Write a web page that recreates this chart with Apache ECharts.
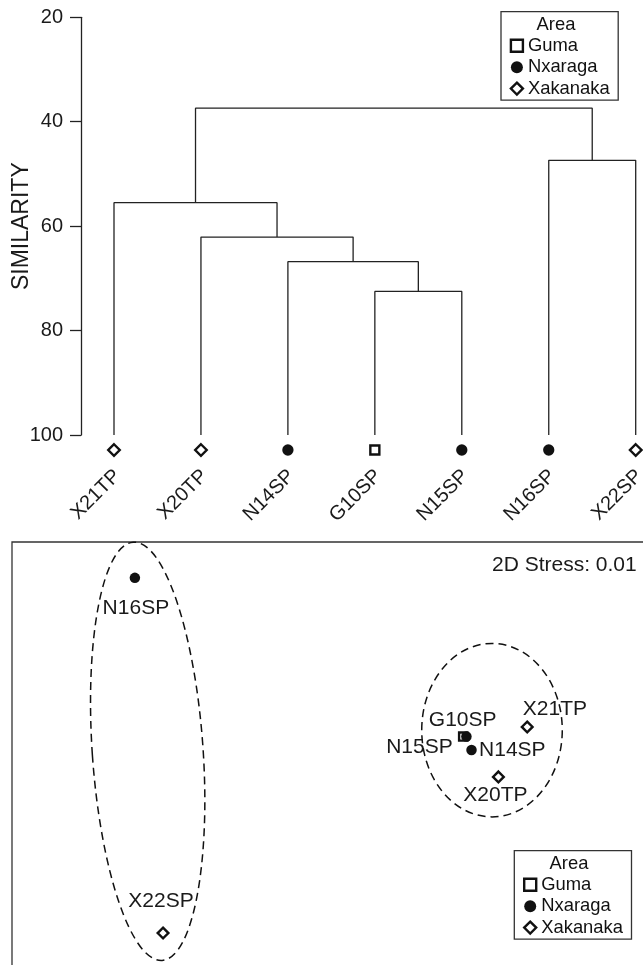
<!DOCTYPE html>
<html>
<head>
<meta charset="utf-8">
<script src="https://cdn.jsdelivr.net/npm/echarts@6/dist/echarts.min.js"></script>
<style>html,body{margin:0;padding:0;background:#fff}#container{width:643px;height:965px}</style>
</head>
<body>
<div id="container"></div>
<script>
var dom = document.getElementById("container");
var myChart = echarts.init(dom);

// dendrogram: leaf order and area of each leaf
var leaves = ['X21TP', 'X20TP', 'N14SP', 'G10SP', 'N15SP', 'N16SP', 'X22SP'];
var leafArea = ['Xakanaka', 'Xakanaka', 'Nxaraga', 'Guma', 'Nxaraga', 'Nxaraga', 'Xakanaka'];
// merges: [node a, node b, similarity]; nodes 0-6 are leaves, 7.. are the merges in order
var merges = [[3, 4, 72.5], [2, 7, 66.8], [1, 8, 62.1], [0, 9, 55.5], [5, 6, 47.4], [10, 11, 37.4]];
var areas = ['Guma', 'Nxaraga', 'Xakanaka'];

// MDS ordination
var mdsNames = ['N16SP', 'X22SP', 'G10SP', 'N15SP', 'N14SP', 'X21TP', 'X20TP'];
var mdsX = [19.2, 23.6, 70.5, 71.0, 71.8, 80.5, 76.0];
var mdsY = [61.9, 6.4, 37.1, 37.1, 35.0, 38.6, 30.8];
// groups: [cx, cy, rx, ry, rotation]
var ellipses = [[21.2, 34.8, 8.66, 32.75, 0.069], [75.0, 38.1, 10.98, 13.55, 0]];
var stressText = '2D Stress: 0.01';

var FONT = '"Liberation Sans", Arial, sans-serif';
var labelShift = {N16SP: [1, 30], X22SP: [-2, -31.6], G10SP: [-0.5, -16], N15SP: [-47, 11],
    N14SP: [40.8, 0], X21TP: [27.7, -17.9], X20TP: [-3, 18.8]};
var symbolOf = {Guma: 'rect', Nxaraga: 'circle', Xakanaka: 'diamond'};
var sizeOf = {Guma: 9, Nxaraga: 11.3, Xakanaka: 11.5};
function markStyle(area) {
    if (area === 'Nxaraga') return {color: '#111', opacity: 1};
    return {color: '#fff', borderColor: '#111', borderWidth: 2.4, opacity: 1};
}

// tree layout
var nodeX = leaves.map(function (d, i) { return i; });
var nodeY = leaves.map(function () { return 100; });
merges.forEach(function (m) {
    nodeX.push((nodeX[m[0]] + nodeX[m[1]]) / 2);
    nodeY.push(m[2]);
});

var series = merges.map(function (m) {
    var a = m[0], b = m[1];
    return {
        type: 'line', xAxisIndex: 0, yAxisIndex: 0, symbol: 'none', silent: true,
        lineStyle: {color: '#222', width: 1.3},
        data: [[nodeX[a], nodeY[a]], [nodeX[a], m[2]], [nodeX[b], m[2]], [nodeX[b], nodeY[b]]]
    };
});

areas.forEach(function (area) {
    var pts = [];
    leaves.forEach(function (n, i) { if (leafArea[i] === area) pts.push([i, 100]); });
    series.push({
        name: area, type: 'scatter', xAxisIndex: 0, yAxisIndex: 0, clip: false,
        symbol: symbolOf[area], symbolSize: sizeOf[area], symbolOffset: [0, 15],
        itemStyle: markStyle(area), data: pts
    });
});

series.push({
    type: 'custom', xAxisIndex: 1, yAxisIndex: 1, silent: true, data: ellipses,
    renderItem: function (params, api) {
        var c = api.coord([api.value(0), api.value(1)]);
        var s = api.size([api.value(2), api.value(3)]);
        return {
            type: 'ellipse', x: c[0], y: c[1], rotation: api.value(4),
            shape: {cx: 0, cy: 0, rx: Math.abs(s[0]), ry: Math.abs(s[1])},
            style: {fill: 'none', stroke: '#111', lineWidth: 1.5, lineDash: [8, 5]}
        };
    }
});

areas.forEach(function (area) {
    var pts = [];
    mdsNames.forEach(function (n, i) {
        if (leafArea[leaves.indexOf(n)] === area)
            pts.push({name: n, value: [mdsX[i], mdsY[i]], label: {offset: labelShift[n]}});
    });
    series.push({
        name: area, type: 'scatter', xAxisIndex: 1, yAxisIndex: 1,
        symbol: symbolOf[area], symbolSize: sizeOf[area] - 0.8,
        itemStyle: markStyle(area), data: pts,
        label: {show: true, position: 'inside', formatter: '{b}', fontSize: 21, color: '#1a1a1a', fontFamily: FONT}
    });
});

function legendAt(left, top) {
    return {
        data: [
            {name: 'Guma', itemStyle: {borderWidth: 2.4}},
            {name: 'Nxaraga'},
            {name: 'Xakanaka', itemStyle: {borderWidth: 2.4}}
        ],
        orient: 'vertical', left: left, top: top,
        padding: [23.6, 8.5, 1, 8.7], itemGap: 0.4, itemWidth: 12, itemHeight: 12,
        borderColor: '#333', borderWidth: 1.3, borderRadius: 0, selectedMode: false,
        textStyle: {fontSize: 18.4, color: '#111', lineHeight: 21, fontFamily: FONT}
    };
}

option = {
    animation: false,
    backgroundColor: '#fff',
    textStyle: {fontFamily: FONT},
    grid: [
        {left: 81, top: 17.3, right: 2.95, bottom: 530, outerBoundsMode: 'none'},
        {left: 12, top: 542, width: 640, height: 432, show: true, borderColor: '#333',
            borderWidth: 1.3, backgroundColor: 'transparent', outerBoundsMode: 'none'}
    ],
    xAxis: [
        {gridIndex: 0, type: 'value', min: -0.3795, max: 6.05,
            axisLine: {show: false}, axisTick: {show: false}, splitLine: {show: false},
            axisLabel: {customValues: leaves.map(function (d, i) { return i + 0.04; }),
                formatter: function (v) { return leaves[Math.round(v)]; },
                rotate: 45, margin: 38, fontSize: 20, color: '#1a1a1a', fontFamily: FONT}},
        {gridIndex: 1, type: 'value', min: 0, max: 100, show: false}
    ],
    yAxis: [
        {gridIndex: 0, type: 'value', inverse: true, min: 20, max: 100, interval: 20,
            axisLine: {show: true, onZero: false, lineStyle: {color: '#222', width: 1.3}},
            axisTick: {show: true, length: 11, lineStyle: {color: '#222', width: 1.3}},
            axisLabel: {fontSize: 20, margin: 18, color: '#1a1a1a', fontFamily: FONT},
            splitLine: {show: false},
            name: 'SIMILARITY', nameLocation: 'middle', nameGap: 48, nameMoveOverlap: false,
            nameTextStyle: {fontSize: 23, color: '#1a1a1a', fontFamily: FONT}},
        {gridIndex: 1, type: 'value', min: 0, max: 67.5, show: false}
    ],
    legend: [legendAt(501, 11.7), legendAt(514.3, 850.7)],
    graphic: [
        {type: 'text', x: 556, y: 24.7, z: 10, style: {text: 'Area', fontSize: 18.4, fontFamily: FONT,
            fill: '#111', align: 'center', verticalAlign: 'middle'}},
        {type: 'text', x: 569, y: 864, z: 10, style: {text: 'Area', fontSize: 18.4, fontFamily: FONT,
            fill: '#111', align: 'center', verticalAlign: 'middle'}},
        {type: 'text', x: 636.7, y: 565.5, z: 10, style: {text: stressText, fontSize: 21, fontFamily: FONT,
            fill: '#1a1a1a', align: 'right', verticalAlign: 'middle'}}
    ],
    series: series
};
myChart.setOption(option, true);
</script>
</body>
</html>
